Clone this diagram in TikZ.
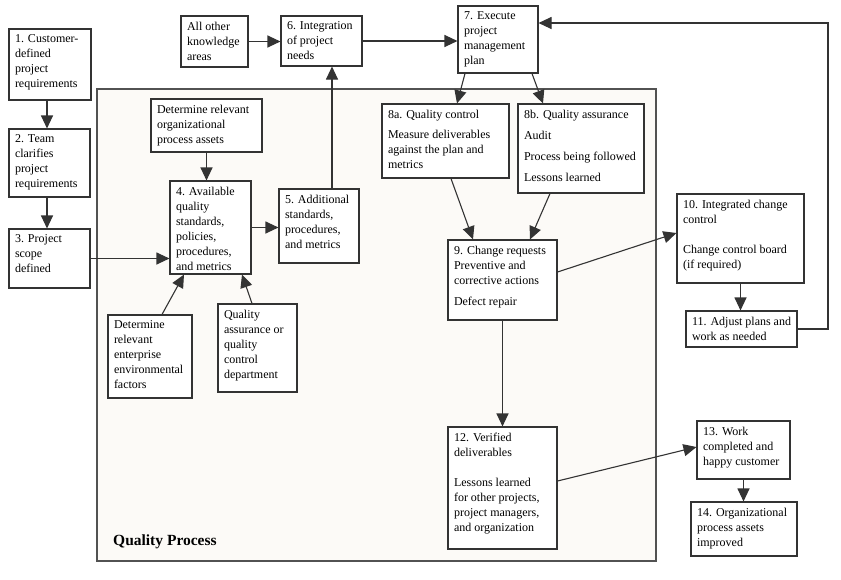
\documentclass[tikz,border=0pt]{standalone}
\usepackage{fontspec}
\setmainfont{Liberation Serif}
\usetikzlibrary{arrows.meta}
\definecolor{ink}{HTML}{333333}
\definecolor{cream}{HTML}{FCFAF7}
\newcommand\qbox[6]{\node[qb,minimum width={#4pt-#2pt},minimum height={#5pt-#3pt}] (#1) at ({(#2+#4)/2},{(#3+#5)/2}) {\parbox[c][\dimexpr #5pt-#3pt-12pt\relax][t]{\dimexpr #4pt-#2pt-12pt\relax}{\raggedright #6}};}
\begin{document}
\begin{tikzpicture}[x=1pt,y=-1pt,
  qb/.style={draw=ink,line width=1.1pt,fill=white,inner sep=0pt,font=\fontsize{12}{15}\selectfont},
  arr/.style={draw=ink,color=ink,line width=1.1pt,-{Triangle[width=12pt,length=13pt]}}]
\useasboundingbox[fill=white] (0,0) rectangle (841,579);
% frame
\node[draw=ink!85,line width=1.1pt,fill=cream,minimum width=559pt,minimum height=472pt,inner sep=0pt] (qp) at (376.5,325) {};
\node[anchor=base west,inner sep=0pt,font=\bfseries\fontsize{15.5}{18}\selectfont] (qpl) at (113,545) {Quality Process};
% boxes
\qbox{n1}{9}{29}{91}{100}{1. Customer-\\defined\\project\\requirements}
\qbox{n2}{9}{129}{90}{197}{2. Team\\clarifies\\project\\requirements}
\qbox{n3}{9}{229}{90}{288}{3. Project\\scope\\defined}
\qbox{all}{181}{16}{248}{67}{All other\\knowledge\\areas}
\qbox{n6}{281}{16}{362}{66}{6. Integration\\of project\\needs}
\qbox{n7}{458}{6}{538}{73}{7. Execute\\project\\management\\plan}
\qbox{org}{151}{99}{262}{152}{Determine relevant\\organizational\\process assets}
\qbox{n4}{170}{181}{251}{274}{4. Available\\quality\\standards,\\policies,\\procedures,\\and metrics}
\qbox{n5}{279}{189}{359}{263}{5. Additional\\standards,\\procedures,\\and metrics}
\qbox{env}{108}{315}{192}{398}{Determine\\relevant\\enterprise\\environmental\\factors}
\qbox{qa}{218}{304}{297}{392}{Quality\\assurance or\\quality\\control\\department}
\qbox{n8a}{382}{104}{509}{178}{8a. Quality control\\[5pt]Measure deliverables\\against the plan and\\metrics}
\qbox{n8b}{518}{104}{644}{193}{8b. Quality assurance\\[6pt]Audit\\[6pt]Process being followed\\[6pt]Lessons learned}
\qbox{n9}{448}{240}{557}{320}{9. Change requests\\Preventive and\\corrective actions\\[6pt]Defect repair}
\qbox{n10}{677}{194}{804}{283}{10. Integrated change\\control\\[15pt]Change control board\\(if required)}
\qbox{n11}{686}{311}{797}{347}{11. Adjust plans and\\work as needed}
\qbox{n12}{448}{427}{557}{549}{12. Verified\\deliverables\\[15pt]Lessons learned\\for other projects,\\project managers,\\and organization}
\qbox{n13}{697}{421}{790}{479}{13. Work\\completed and\\happy customer}
\qbox{n14}{691}{502}{797}{556}{14. Organizational\\process assets\\improved}
\coordinate (fb) at (828,23);
% connectors
\draw[arr] ([xshift=-3pt]n1.south) -- ([xshift=-3pt]n1.south |- n2.north);
\draw[arr] ([xshift=-2.5pt]n2.south) -- ([xshift=-2.5pt]n2.south |- n3.north);
\draw[arr] (n3.east) -- (n3.east -| n4.west);
\draw[arr] (all.east) -- (all.east -| n6.west);
\draw[arr] (n6.east) -- (n6.east -| n7.west);
\draw[arr] (org.south) -- (org.south |- n4.north);
\draw[arr] ([xshift=12pt]env.north) -- ([xshift=-26.5pt]n4.south);
\draw[arr] ([xshift=-5.5pt]qa.north) -- ([xshift=31.5pt]n4.south);
\draw[arr] (n4.east) -- (n4.east -| n5.west);
\draw[arr] ([xshift=13pt]n5.north) -- ([xshift=13pt]n5.north |- n6.south);
\draw[arr] ([xshift=-33pt]n7.south) -- ([xshift=11.5pt]n8a.north);
\draw[arr] ([xshift=34pt]n7.south) -- ([xshift=-38pt]n8b.north);
\draw[arr] ([xshift=5.5pt]n8a.south) -- ([xshift=-29.5pt]n9.north);
\draw[arr] ([xshift=-31pt]n8b.south) -- ([xshift=27.5pt]n9.north);
\draw[arr] ([yshift=8pt]n9.east) -- ([yshift=5.5pt]n10.west);
\draw[arr] (n10.south) -- (n10.south |- n11.north);
\draw[arr] (n11.east) -- (n11.east -| fb) -- (fb) -- (fb -| n7.east);
\draw[arr] (n9.south) -- (n9.south |- n12.north);
\draw[arr] ([yshift=7pt]n12.east) -- ([yshift=3pt]n13.west);
\draw[arr] (n13.south) -- (n13.south |- n14.north);
\end{tikzpicture}
\end{document}
